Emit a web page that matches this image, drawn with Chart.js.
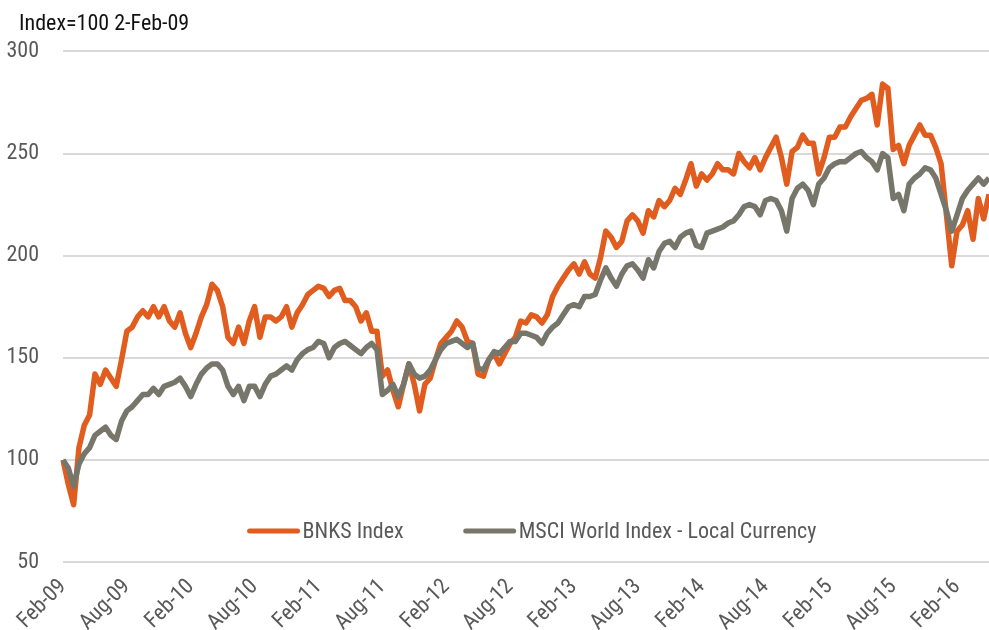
<!DOCTYPE html>
<html>
<head>
<meta charset="utf-8">
<title>BNKS Index vs MSCI World Index</title>
<script src="https://cdn.jsdelivr.net/npm/chart.js@4.4.1/dist/chart.umd.min.js"></script>
<style>
    body { margin: 0; background: #fff; }
    #chartBox { width: 989px; height: 630px; }
</style>
</head>
<body>
<div id="chartBox"><canvas id="indexChart" width="989" height="630"></canvas></div>
<script>
// Half-monthly readings from Feb-09 to May-16, Index=100 on 2-Feb-09
const tickLabels = ['Feb-09', 'Aug-09', 'Feb-10', 'Aug-10', 'Feb-11', 'Aug-11', 'Feb-12', 'Aug-12',
    'Feb-13', 'Aug-13', 'Feb-14', 'Aug-14', 'Feb-15', 'Aug-15', 'Feb-16'];

const bnksValues = [
    100, 88, 78, 106, 117, 122, 142, 137, 144, 140, 136, 149,
    163, 165, 170, 173, 170, 175, 170, 175, 168, 165, 172, 162,
    155, 162, 170, 176, 186, 183, 175, 160, 157, 165, 157, 168,
    175, 160, 170, 170, 168, 170, 175, 165, 172, 176, 181, 183,
    185, 184, 180, 183, 184, 178, 178, 175, 168, 172, 163, 163,
    141, 144, 134, 126, 137, 147, 137, 124, 137, 140, 149, 157,
    160, 163, 168, 165, 158, 157, 142, 141, 149, 152, 147, 152,
    157, 160, 168, 167, 171, 170, 167, 171, 180, 185, 189, 193,
    196, 191, 197, 191, 189, 199, 212, 209, 204, 207, 217, 220,
    217, 211, 222, 219, 227, 224, 227, 233, 230, 237, 245, 234,
    240, 237, 240, 245, 242, 242, 240, 250, 246, 243, 248, 242,
    248, 253, 258, 248, 235, 251, 253, 259, 255, 255, 240, 248,
    258, 258, 263, 263, 268, 272, 276, 277, 279, 264, 284, 282,
    252, 254, 245, 254, 259, 264, 259, 259, 253, 245, 220, 195,
    212, 215, 222, 208, 228, 218, 230
];

const msciValues = [
    100, 96, 87, 98, 103, 106, 112, 114, 116, 112, 110, 119,
    124, 126, 129, 132, 132, 135, 132, 136, 137, 138, 140, 136,
    131, 137, 142, 145, 147, 147, 144, 136, 132, 136, 129, 136,
    136, 131, 137, 141, 142, 144, 146, 144, 149, 152, 154, 155,
    158, 157, 150, 155, 157, 158, 156, 154, 152, 155, 157, 154,
    132, 134, 137, 131, 137, 147, 142, 140, 141, 144, 149, 154,
    157, 158, 159, 157, 155, 157, 145, 144, 149, 153, 152, 155,
    158, 158, 162, 162, 161, 160, 157, 162, 165, 167, 171, 175,
    176, 175, 180, 180, 181, 188, 194, 189, 185, 191, 195, 196,
    193, 189, 198, 194, 202, 206, 207, 204, 209, 211, 212, 205,
    204, 211, 212, 213, 214, 216, 217, 220, 224, 225, 224, 220,
    227, 228, 227, 222, 212, 228, 233, 235, 232, 225, 235, 238,
    243, 245, 246, 246, 248, 250, 251, 248, 246, 242, 250, 248,
    228, 230, 222, 235, 238, 240, 243, 242, 238, 230, 222, 212,
    220, 228, 232, 235, 238, 235, 238
];

const seriesNames = ['BNKS Index', 'MSCI World Index - Local Currency'];
const seriesColors = ['#e05d1f', '#76776a'];

// one category per half month, labelled every six months
const periods = bnksValues.map((v, i) => (i % 12 === 0 ? tickLabels[i / 12] : ''));

const chartFont = "'Liberation Sans Narrow', 'Roboto Condensed', 'DejaVu Sans Condensed', sans-serif";
const labelGrey = '#595959';

// Legend sits inside the plot, just above the bottom gridline.
// Also nudges the title right so it starts a little in from the y labels.
const insideLegend = {
    id: 'insideLegend',
    afterLayout(chart) {
        chart.titleBlock.left += 13;
    },
    afterDatasetsDraw(chart) {
        const ctx = chart.ctx;
        const area = chart.chartArea;
        const lineLen = 48, textGap = 5, itemGap = 62;

        ctx.save();
        ctx.font = '22px ' + chartFont;
        const widths = seriesNames.map(n => ctx.measureText(n).width);
        const total = widths.reduce((a, b) => a + b, 0) + seriesNames.length * (lineLen + textGap) + itemGap;
        let x = (area.left + area.right) / 2 + 7 - total / 2;
        const y = area.bottom - 31;

        seriesNames.forEach((name, i) => {
            ctx.strokeStyle = seriesColors[i];
            ctx.lineWidth = 5;
            ctx.lineCap = 'round';
            ctx.beginPath();
            ctx.moveTo(x, y);
            ctx.lineTo(x + lineLen, y);
            ctx.stroke();
            ctx.fillStyle = labelGrey;
            ctx.textBaseline = 'middle';
            ctx.fillText(name, x + lineLen + textGap, y + 1);
            x += lineLen + textGap + widths[i] + itemGap;
        });
        ctx.restore();
    }
};

const ctx = document.getElementById('indexChart').getContext('2d');

const indexChart = new Chart(ctx, {
    type: 'line',
    data: {
        labels: periods,
        datasets: [
            {
                label: seriesNames[0],
                data: bnksValues,
                borderColor: seriesColors[0],
                borderWidth: 5.5,
                pointRadius: 0,
                tension: 0,
                borderJoinStyle: 'round',
                order: 2
            },
            {
                label: seriesNames[1],
                data: msciValues,
                borderColor: seriesColors[1],
                borderWidth: 5.5,
                pointRadius: 0,
                tension: 0,
                borderJoinStyle: 'round',
                order: 1
            }
        ]
    },
    options: {
        responsive: false,
        animation: false,
        layout: { padding: { left: 6, right: 0, top: 0, bottom: 0 } },
        plugins: {
            legend: { display: false },
            tooltip: { enabled: false },
            title: {
                display: true,
                text: 'Index=100 2-Feb-09',
                align: 'start',
                color: '#111',
                font: { family: chartFont, size: 22, weight: 'normal' },
                padding: { top: 11, bottom: 14 }
            }
        },
        scales: {
            x: {
                grid: { display: false },
                border: { display: false },
                ticks: {
                    color: labelGrey,
                    font: { family: chartFont, size: 22 },
                    autoSkip: false,
                    maxRotation: 45,
                    minRotation: 45,
                    padding: 4
                },
                afterFit(scale) {
                    scale.height = 68;
                    scale.paddingRight = 0;
                }
            },
            y: {
                min: 50,
                max: 300,
                grid: { color: '#d9d9d9', lineWidth: 2, drawTicks: false },
                border: { display: false },
                ticks: {
                    stepSize: 50,
                    color: labelGrey,
                    font: { family: chartFont, size: 22 },
                    padding: 24
                },
                afterFit(scale) { scale.width = 57; }
            }
        }
    },
    plugins: [insideLegend]
});
</script>
</body>
</html>
